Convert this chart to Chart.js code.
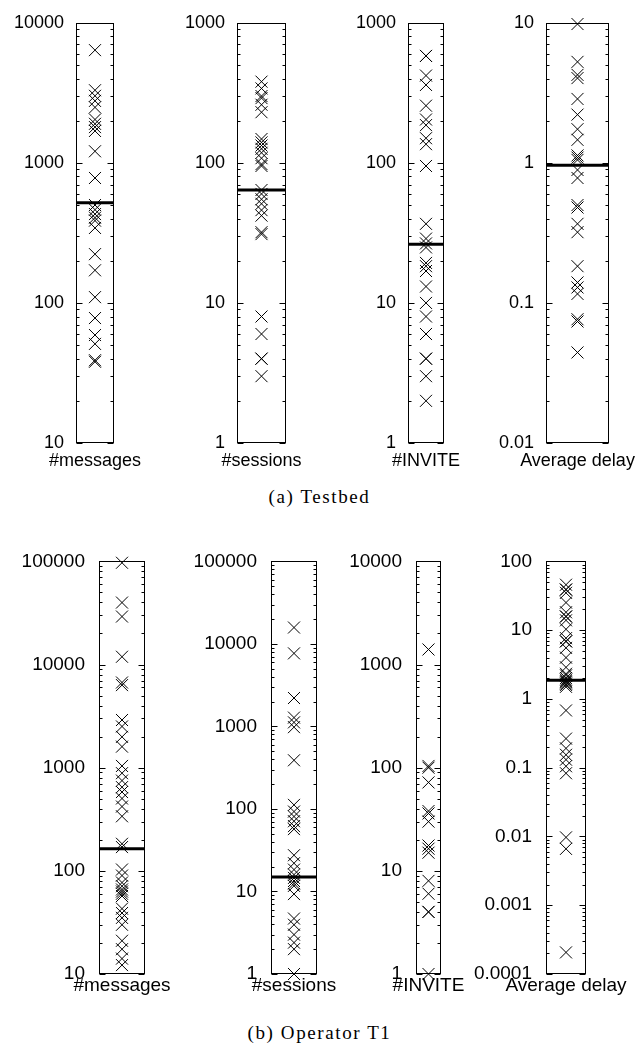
<!DOCTYPE html>
<html>
<head>
<meta charset="utf-8">
<script src="https://cdn.jsdelivr.net/npm/chart.js@4.4.1/dist/chart.umd.min.js"></script>
<style>
    body { margin: 0; background: #fff; width: 639px; height: 1047px; position: relative; overflow: hidden; }
    canvas { position: absolute; }
    .caption { position: absolute; left: 0; width: 639px; text-align: center; font-family: 'Liberation Serif', serif; font-size: 19px; line-height: 20px; letter-spacing: 1.6px; color: #000; }
</style>
</head>
<body>
<div class="caption" style="top:487px">(a) Testbed</div>
<div class="caption" style="top:1023px">(b) Operator T1</div>
<script>
// Category labels (same for both rows)
const metricLabels = ['#messages', '#sessions', '#INVITE', 'Average delay'];

// (a) Testbed - one value per x marker
const tbMessages = [6380, 3300, 3010, 2770, 2490, 2040, 1900, 1800, 1690, 1210, 780, 500, 463, 431, 406, 387, 343, 223, 171, 110, 78, 59, 51, 39, 38];
const tbSessions = [380, 340, 300, 290, 260, 230, 148, 140, 133, 126, 118, 108, 98, 95, 64, 60, 55, 51, 46, 42, 32, 31, 8, 6, 4, 4, 3];
const tbInvite = [580, 580, 420, 360, 256, 204, 186, 150, 136, 95, 36.7, 28.8, 26.6, 24.9, 19.3, 18.3, 16.9, 13.1, 10, 8, 6, 6, 4, 4, 3, 2];
const tbDelay = [9.8, 5.26, 4.25, 4.03, 2.86, 2.21, 1.74, 1.46, 1.13, 1.09, 1.05, 0.89, 0.78, 0.5, 0.48, 0.367, 0.32, 0.183, 0.14, 0.129, 0.116, 0.0765, 0.0737, 0.0443];
const tbMedians = [520, 64, 26.2, 0.96];

// (b) Operator T1
const t1Messages = [97000, 39900, 29200, 11900, 6700, 6320, 2900, 2510, 1990, 1600, 1040, 885, 750, 648, 581, 503, 420, 338, 183, 170, 103, 90, 77, 71, 66, 63, 60, 57, 43, 39, 35, 30, 21, 17.4, 14.1, 12.2];
const t1Sessions = [15800, 7680, 2210, 1280, 1120, 980, 389, 112, 93, 81, 71, 62, 57, 27.5, 22, 18.4, 16, 14.6, 13.4, 12.5, 11.7, 9.3, 4.7, 3.95, 3, 2.4, 2, 1];
const t1Invite = [1400, 104, 100, 72, 38, 36, 30, 17.6, 16.4, 15, 8, 6, 4, 4, 1];
const t1Delay = [45.8, 38.9, 38.9, 34.9, 25.2, 18.2, 15.8, 15.8, 13.9, 10.3, 7.65, 6.87, 6.87, 5.53, 3.99, 2.88, 2.32, 2.2, 2.01, 1.9, 1.81, 1.75, 1.67, 1.6, 1.5, 0.68, 0.265, 0.191, 0.154, 0.131, 0.105, 0.083, 0.0097, 0.0066, 0.000206];
const t1Medians = [164, 15, null, 1.87];

// Decade tick labels per panel
const tbTicks = [
    [10, 100, 1000, 10000],
    [1, 10, 100, 1000],
    [1, 10, 100, 1000],
    [0.01, 0.1, 1, 10]
];
const t1Ticks = [
    [10, 100, 1000, 10000, 100000],
    [1, 10, 100, 1000, 10000, 100000],
    [1, 10, 100, 1000, 10000],
    [0.0001, 0.001, 0.01, 0.1, 1, 10, 100]
];

// Box positions on the page [left, top, right, bottom]
const tbBoxes = [[76, 13, 114, 443], [237, 13, 286, 443], [408, 13, 444, 443], [546, 13, 609, 443]];
const t1Boxes = [[99, 549, 145, 974], [271, 549, 317, 974], [416, 549, 441, 974], [546, 549, 586, 974]];

const AXIS_W = 80, PAD_TOP = 13, PAD_RIGHT = 70, PAD_BOTTOM = 40;

// decade + minor ticks (2..9) between first and last decade
function logTicks(decades) {
    const out = [];
    decades.forEach((d, i) => {
        out.push({ value: d, major: true });
        if (i < decades.length - 1) {
            for (let m = 2; m <= 9; m++) out.push({ value: m * d, major: false });
        }
    });
    return out;
}

// box outline, gnuplot style inward ticks on both sides, and category label
const boxPlugin = {
    id: 'box',
    afterDraw(chart, args, opts) {
        const { ctx, chartArea: a } = chart;
        const yScale = chart.scales.y;
        const l = Math.round(a.left) + 0.5;
        const r = Math.round(a.right) - 0.5;
        const t = Math.round(a.top) + 0.5;
        const b = Math.round(a.bottom) - 0.5;
        ctx.save();
        ctx.strokeStyle = '#000';
        ctx.lineWidth = 1;
        ctx.beginPath();
        yScale.ticks.forEach(tk => {
            const py = Math.round(yScale.getPixelForValue(tk.value)) + 0.5;
            const len = tk.major ? 6 : 3;
            ctx.moveTo(l, py); ctx.lineTo(l + len, py);
            ctx.moveTo(r, py); ctx.lineTo(r - len, py);
        });
        ctx.stroke();
        ctx.strokeRect(l, t, r - l, b - t);
        ctx.fillStyle = '#000';
        ctx.font = opts.fontSize + 'px "Liberation Sans", Arial, sans-serif';
        ctx.textAlign = 'center';
        ctx.textBaseline = 'middle';
        ctx.fillText(opts.label, (a.left + a.right) / 2, a.bottom + opts.labelGap);
        ctx.restore();
    }
};

function makePanel(values, median, decades, label, box, fontSize, tickPad, labelGap) {
    const canvas = document.createElement('canvas');
    const w = AXIS_W + (box[2] - box[0]) + PAD_RIGHT;
    const h = PAD_TOP + (box[3] - box[1]) + PAD_BOTTOM;
    canvas.width = w;
    canvas.height = h;
    canvas.style.left = (box[0] - AXIS_W) + 'px';
    canvas.style.top = (box[1] - PAD_TOP) + 'px';
    document.body.appendChild(canvas);

    const datasets = [{
        type: 'scatter',
        data: values.map(v => ({ x: 0, y: v })),
        pointStyle: 'crossRot',
        pointRadius: 8.5,
        pointBorderWidth: 1,
        borderColor: '#000',
        backgroundColor: '#000',
        clip: false
    }];
    if (median !== null) {
        datasets.push({
            type: 'line',
            data: [{ x: -1, y: median }, { x: 1, y: median }],
            borderColor: '#000',
            borderWidth: 3,
            pointRadius: 0
        });
    }

    return new Chart(canvas.getContext('2d'), {
        type: 'scatter',
        data: { datasets },
        options: {
            responsive: false,
            animation: false,
            devicePixelRatio: 1,
            layout: { padding: { left: 0, top: PAD_TOP, right: PAD_RIGHT, bottom: PAD_BOTTOM } },
            plugins: {
                legend: { display: false },
                tooltip: { enabled: false },
                box: { label, fontSize, labelGap }
            },
            scales: {
                x: { type: 'linear', min: -1, max: 1, display: false },
                y: {
                    type: 'logarithmic',
                    min: decades[0],
                    max: decades[decades.length - 1],
                    grid: { display: false, drawTicks: false },
                    border: { display: false },
                    ticks: {
                        autoSkip: false,
                        padding: tickPad,
                        color: '#000',
                        font: { family: '"Liberation Sans", Arial, sans-serif', size: fontSize },
                        callback: (v, i, ticks) => ticks[i].major ? String(v) : ''
                    },
                    afterBuildTicks: scale => { scale.ticks = logTicks(decades); },
                    afterFit: scale => { scale.width = AXIS_W; }
                }
            }
        },
        plugins: [boxPlugin]
    });
}

const tbValues = [tbMessages, tbSessions, tbInvite, tbDelay];
const t1Values = [t1Messages, t1Sessions, t1Invite, t1Delay];

tbValues.forEach((vals, i) => makePanel(vals, tbMedians[i], tbTicks[i], metricLabels[i], tbBoxes[i], 18, 12, 18));
t1Values.forEach((vals, i) => makePanel(vals, t1Medians[i], t1Ticks[i], metricLabels[i], t1Boxes[i], 19, 14, 12));
</script>
</body>
</html>
